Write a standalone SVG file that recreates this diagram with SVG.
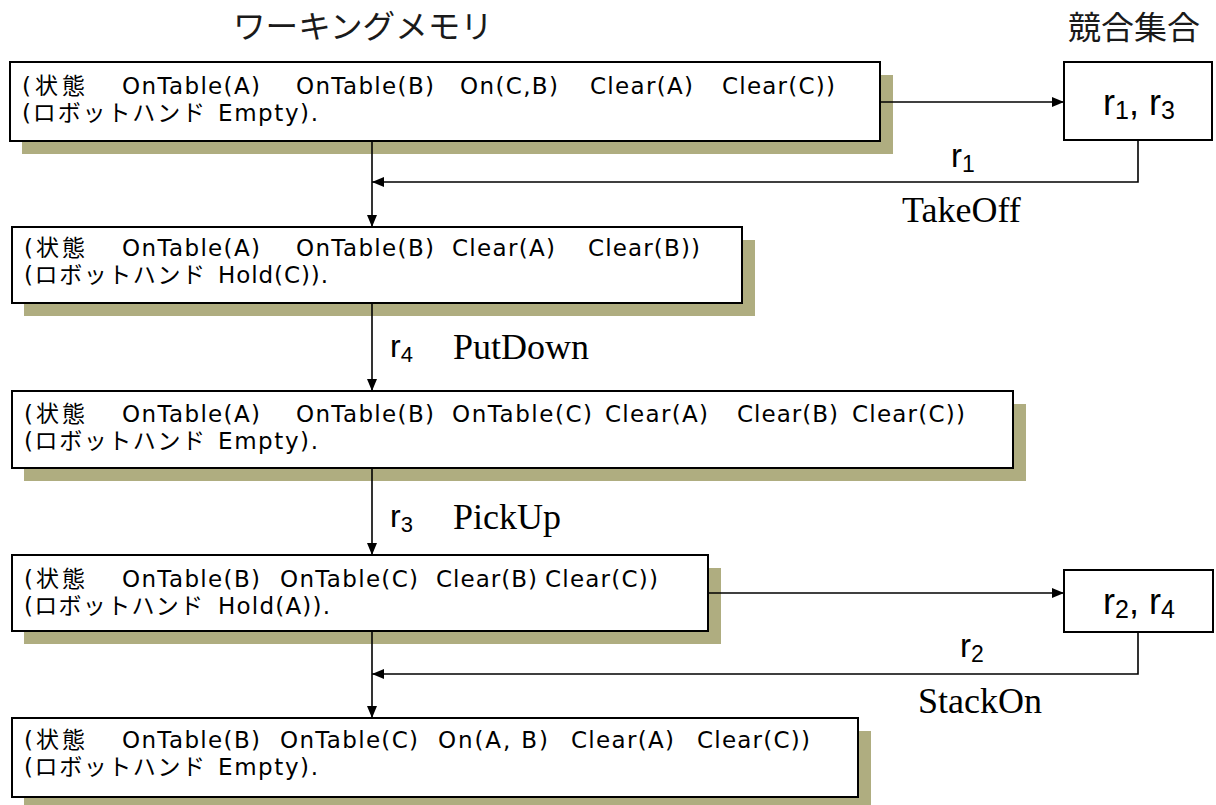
<svg xmlns="http://www.w3.org/2000/svg" width="1216" height="805" viewBox="0 0 1216 805">
<style>
.box{fill:#fff;stroke:#000;stroke-width:2}
.shadow{fill:#afad80}
.t{font-family:"DejaVu Sans","Noto Sans CJK JP",sans-serif;font-size:23px;fill:#000}
.hd{font-family:"Noto Sans CJK JP",sans-serif;font-size:32px;fill:#1a1a1a}
.r{font-family:"Liberation Sans",Arial,sans-serif;fill:#000}
.act{font-family:"Liberation Serif","Times New Roman",serif;font-size:36px;fill:#000}
.ln{fill:none;stroke:#000;stroke-width:1.6}
</style>
<defs>
<marker id="ah" viewBox="0 0 12 10" refX="12" refY="5" markerWidth="12" markerHeight="10" markerUnits="userSpaceOnUse" orient="auto">
<path d="M0,0 L12,5 L0,10 Z" fill="#000"/>
</marker>
</defs>
<rect width="1216" height="805" fill="#fff"/>

<text class="hd" x="233" y="38" textLength="260" lengthAdjust="spacingAndGlyphs">ワーキングメモリ</text>
<text class="hd" x="1068" y="39" textLength="132" lengthAdjust="spacingAndGlyphs">競合集合</text>

<g id="wm1">
<rect class="shadow" x="22" y="75" width="871" height="79"/>
<rect class="box" x="10" y="62" width="870" height="79"/>
<text class="t" x="22" y="94" textLength="63" lengthAdjust="spacing">(状態</text>
<text class="t" x="122" y="94" textLength="138" lengthAdjust="spacing">OnTable(A)</text>
<text class="t" x="296" y="94" textLength="138" lengthAdjust="spacing">OnTable(B)</text>
<text class="t" x="460" y="94" textLength="98" lengthAdjust="spacing">On(C,B)</text>
<text class="t" x="590" y="94" textLength="103" lengthAdjust="spacing">Clear(A)</text>
<text class="t" x="722" y="94" textLength="113" lengthAdjust="spacing">Clear(C))</text>
<text class="t" x="22" y="121" textLength="183" lengthAdjust="spacing">(ロボットハンド</text>
<text class="t" x="218" y="121" textLength="100" lengthAdjust="spacing">Empty).</text>
</g>

<g id="wm2">
<rect class="shadow" x="24" y="240" width="731" height="76"/>
<rect class="box" x="12" y="227" width="730" height="76"/>
<text class="t" x="24" y="256" textLength="61" lengthAdjust="spacing">(状態</text>
<text class="t" x="122" y="256" textLength="138" lengthAdjust="spacing">OnTable(A)</text>
<text class="t" x="296" y="256" textLength="138" lengthAdjust="spacing">OnTable(B)</text>
<text class="t" x="452" y="256" textLength="103" lengthAdjust="spacing">Clear(A)</text>
<text class="t" x="588" y="256" textLength="112" lengthAdjust="spacing">Clear(B))</text>
<text class="t" x="24" y="283" textLength="181" lengthAdjust="spacing">(ロボットハンド</text>
<text class="t" x="218" y="283" textLength="110" lengthAdjust="spacing">Hold(C)).</text>
</g>

<g id="wm3">
<rect class="shadow" x="24" y="404" width="1002" height="77"/>
<rect class="box" x="12" y="391" width="1001" height="77"/>
<text class="t" x="24" y="422" textLength="61" lengthAdjust="spacing">(状態</text>
<text class="t" x="122" y="422" textLength="138" lengthAdjust="spacing">OnTable(A)</text>
<text class="t" x="296" y="422" textLength="138" lengthAdjust="spacing">OnTable(B)</text>
<text class="t" x="452" y="422" textLength="140" lengthAdjust="spacing">OnTable(C)</text>
<text class="t" x="605" y="422" textLength="103" lengthAdjust="spacing">Clear(A)</text>
<text class="t" x="737" y="422" textLength="101" lengthAdjust="spacing">Clear(B)</text>
<text class="t" x="852" y="422" textLength="113" lengthAdjust="spacing">Clear(C))</text>
<text class="t" x="24" y="449" textLength="181" lengthAdjust="spacing">(ロボットハンド</text>
<text class="t" x="218" y="449" textLength="100" lengthAdjust="spacing">Empty).</text>
</g>

<g id="wm4">
<rect class="shadow" x="24" y="568" width="697" height="76"/>
<rect class="box" x="12" y="555" width="696" height="76"/>
<text class="t" x="24" y="587" textLength="61" lengthAdjust="spacing">(状態</text>
<text class="t" x="122" y="587" textLength="138" lengthAdjust="spacing">OnTable(B)</text>
<text class="t" x="280" y="587" textLength="138" lengthAdjust="spacing">OnTable(C)</text>
<text class="t" x="436" y="587" textLength="101" lengthAdjust="spacing">Clear(B)</text>
<text class="t" x="545" y="587" textLength="113" lengthAdjust="spacing">Clear(C))</text>
<text class="t" x="24" y="614" textLength="179" lengthAdjust="spacing">(ロボットハンド</text>
<text class="t" x="218" y="614" textLength="112" lengthAdjust="spacing">Hold(A)).</text>
</g>

<g id="wm5">
<rect class="shadow" x="24" y="731" width="847" height="79"/>
<rect class="box" x="12" y="718" width="846" height="79"/>
<text class="t" x="24" y="748" textLength="61" lengthAdjust="spacing">(状態</text>
<text class="t" x="122" y="748" textLength="138" lengthAdjust="spacing">OnTable(B)</text>
<text class="t" x="280" y="748" textLength="138" lengthAdjust="spacing">OnTable(C)</text>
<text class="t" x="438" y="748" textLength="110" lengthAdjust="spacing">On(A, B)</text>
<text class="t" x="571" y="748" textLength="103" lengthAdjust="spacing">Clear(A)</text>
<text class="t" x="697" y="748" textLength="113" lengthAdjust="spacing">Clear(C))</text>
<text class="t" x="24" y="775" textLength="181" lengthAdjust="spacing">(ロボットハンド</text>
<text class="t" x="218" y="775" textLength="100" lengthAdjust="spacing">Empty).</text>
</g>

<g id="cs1">
<rect class="box" x="1064" y="62" width="148" height="78"/>
<text class="r" x="1139" y="115" font-size="36" text-anchor="middle">r<tspan font-size="25" dy="4">1</tspan><tspan dy="-4">, r</tspan><tspan font-size="25" dy="4">3</tspan></text>
</g>

<g id="cs2">
<rect class="box" x="1064" y="570" width="149" height="62"/>
<text class="r" x="1139" y="614" font-size="36" text-anchor="middle">r<tspan font-size="25" dy="4">2</tspan><tspan dy="-4">, r</tspan><tspan font-size="25" dy="4">4</tspan></text>
</g>

<g id="connectors">
<line class="ln" x1="880" y1="102" x2="1064" y2="102" marker-end="url(#ah)"/>
<polyline class="ln" points="1138,140 1138,182 372,182" marker-end="url(#ah)"/>
<line class="ln" x1="372" y1="141" x2="372" y2="227" marker-end="url(#ah)"/>
<line class="ln" x1="372" y1="303" x2="372" y2="391" marker-end="url(#ah)"/>
<line class="ln" x1="372" y1="468" x2="372" y2="555" marker-end="url(#ah)"/>
<line class="ln" x1="708" y1="593" x2="1064" y2="593" marker-end="url(#ah)"/>
<polyline class="ln" points="1138,632 1138,674 372,674" marker-end="url(#ah)"/>
<line class="ln" x1="372" y1="631" x2="372" y2="718" marker-end="url(#ah)"/>
<text class="r" x="951" y="167" font-size="33">r<tspan font-size="23" dy="5">1</tspan></text>
<text class="act" x="902" y="222">TakeOff</text>
<text class="r" x="390" y="357" font-size="32">r<tspan font-size="22" dy="5">4</tspan></text>
<text class="act" x="453" y="359">PutDown</text>
<text class="r" x="390" y="527" font-size="32">r<tspan font-size="22" dy="5">3</tspan></text>
<text class="act" x="453" y="529">PickUp</text>
<text class="r" x="960" y="657" font-size="33">r<tspan font-size="23" dy="5">2</tspan></text>
<text class="act" x="918" y="713">StackOn</text>
</g>
</svg>
